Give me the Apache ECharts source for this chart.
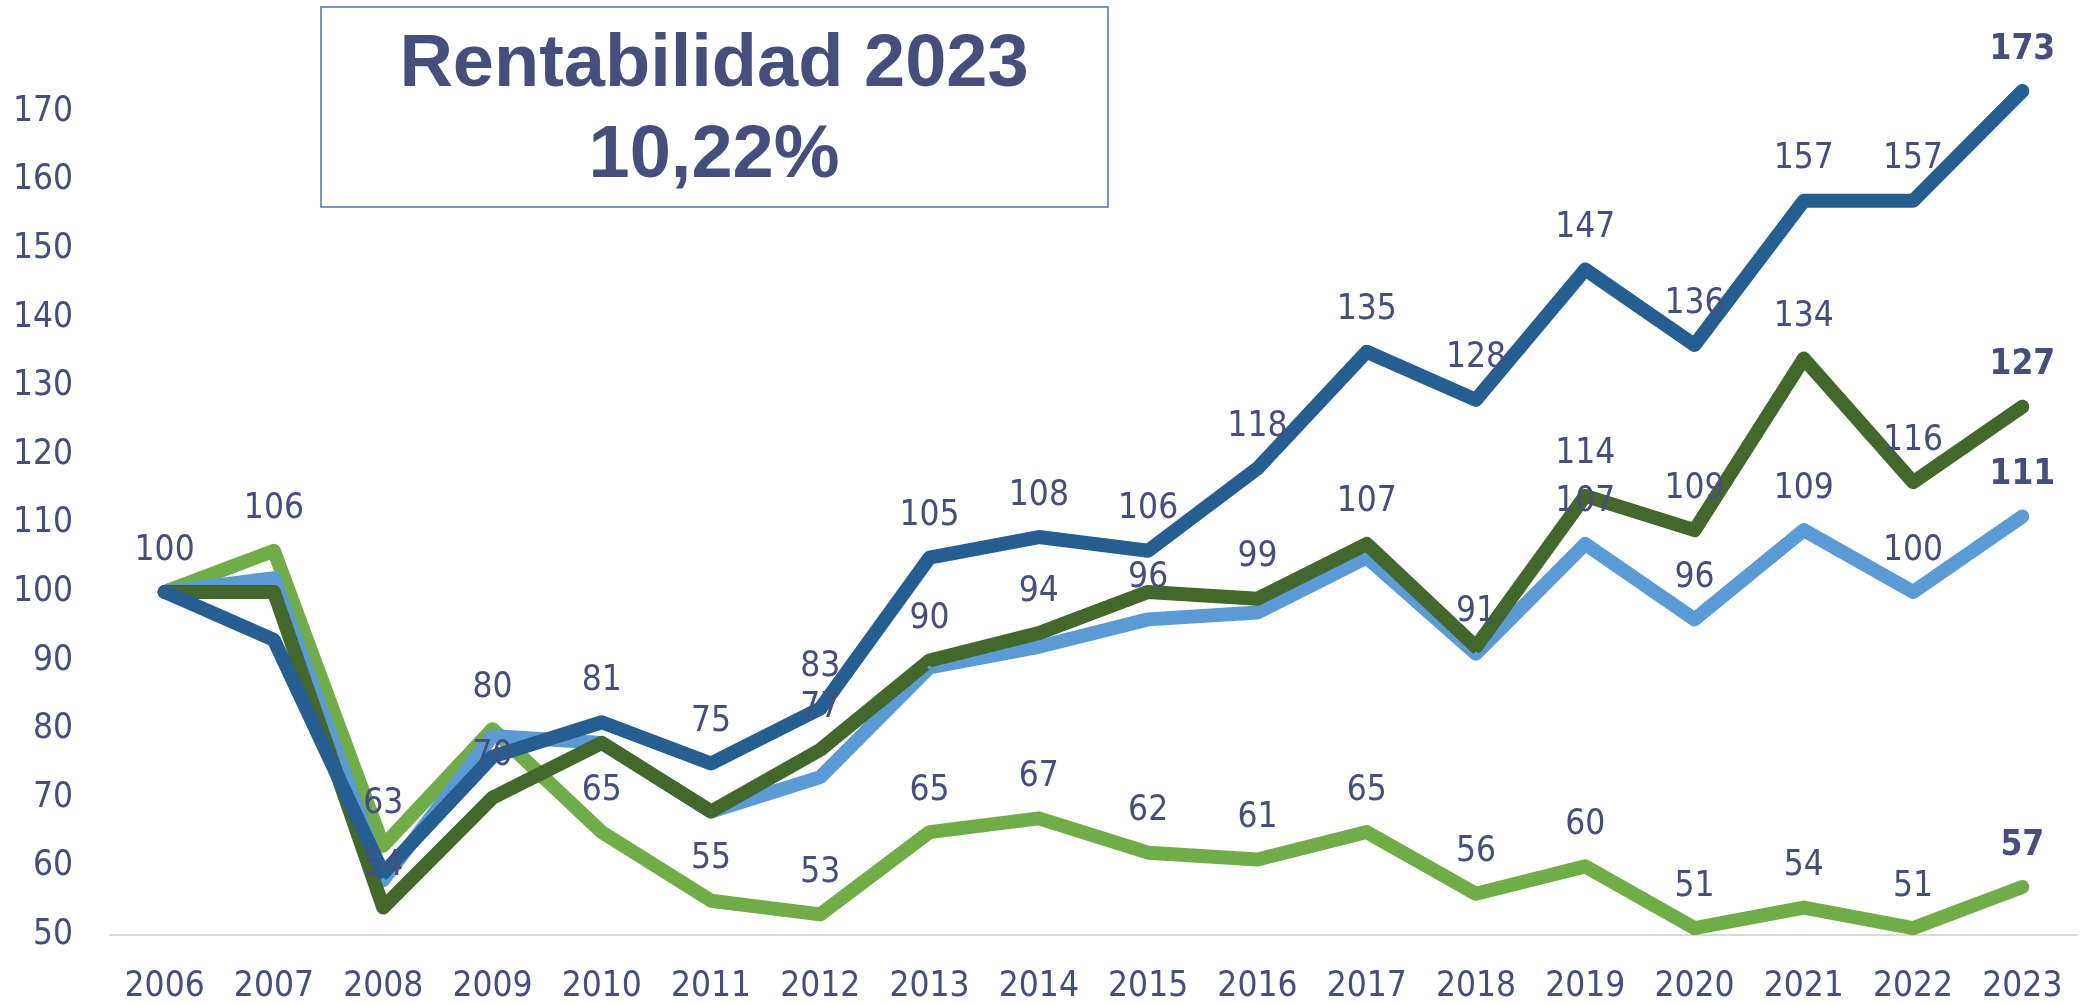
<!DOCTYPE html>
<html>
<head>
<meta charset="utf-8">
<script src="https://cdn.jsdelivr.net/npm/echarts@6/dist/echarts.min.js"></script>
<style>
  html, body { margin: 0; padding: 0; background: #fff; }
  #chart { width: 2083px; height: 1004px; }
</style>
</head>
<body>
<div id="chart"></div>
<script>
// years on the x axis
const years = ['2006', '2007', '2008', '2009', '2010', '2011', '2012', '2013', '2014',
  '2015', '2016', '2017', '2018', '2019', '2020', '2021', '2022', '2023'];

// series values (index = 100 in 2006)
const darkBlue   = [100, 93, 59, 76, 81, 75, 83, 105, 108, 106, 118, 135, 128, 147, 136, 157, 157, 173];
const lightBlue  = [100, 102, 58, 79, 78, 68, 73, 89, 92, 96, 97, 105, 91, 107, 96, 109, 100, 111];
const darkGreen  = [100, 100, 54, 70, 78, 68, 77, 90, 94, 100, 99, 107, 92, 114, 109, 134, 116, 127];
const lightGreen = [100, 106, 63, 80, 65, 55, 53, 65, 67, 62, 61, 65, 56, 60, 51, 54, 51, 57];

// which points carry a data label (1 = shown)
const darkBlueLabels   = [0, 0, 0, 0, 1, 1, 1, 1, 1, 1, 1, 1, 1, 1, 1, 1, 1, 1];
const lightBlueLabels  = [0, 0, 0, 0, 0, 0, 0, 0, 0, 1, 0, 0, 1, 1, 1, 1, 1, 1];
const darkGreenLabels  = [0, 0, 1, 1, 0, 0, 1, 1, 1, 0, 1, 1, 0, 1, 1, 1, 1, 1];
const lightGreenLabels = [1, 1, 1, 1, 1, 1, 1, 1, 1, 1, 1, 1, 1, 1, 1, 1, 1, 1];

const textColor = '#464e7e';
const narrowFont = '"DejaVu Sans Condensed", "Liberation Sans Narrow", sans-serif';

function buildData(values, flags) {
  return values.map((v, i) => ({
    value: v,
    label: {
      show: flags[i] === 1,
      fontWeight: i === values.length - 1 ? 'bold' : 'normal'
    }
  }));
}

function makeSeries(name, color, values, flags) {
  return {
    name: name,
    type: 'line',
    data: buildData(values, flags),
    symbol: 'circle',
    symbolSize: 4,
    showSymbol: true,
    showAllSymbol: true,
    lineStyle: { color: color, width: 14, cap: 'round', join: 'round' },
    itemStyle: { color: color },
    label: {
      show: false,
      position: 'top',
      distance: 22,
      color: textColor,
      fontSize: 35,
      fontFamily: narrowFont
    },
    labelLayout: { hideOverlap: false },
    emphasis: { disabled: true },
    animation: false
  };
}

const chart = echarts.init(document.getElementById('chart'));

chart.setOption({
  backgroundColor: '#ffffff',
  grid: { left: 110, right: 6, top: 43, bottom: 66 },
  xAxis: {
    type: 'category',
    data: years,
    axisLine: { lineStyle: { color: '#d9d9d9', width: 2 } },
    axisTick: { show: false },
    axisLabel: { color: textColor, fontSize: 35, fontFamily: narrowFont, margin: 34, interval: 0 }
  },
  yAxis: {
    type: 'value',
    min: 50,
    max: 180,
    interval: 10,
    splitLine: { show: false },
    axisLine: { show: false },
    axisTick: { show: false },
    axisLabel: {
      color: textColor, fontSize: 35, fontFamily: narrowFont, margin: 37,
      showMaxLabel: false
    }
  },
  graphic: [
    {
      type: 'rect',
      shape: { x: 321, y: 7, width: 787, height: 200 },
      style: { fill: '#ffffff', stroke: '#4472c4', lineWidth: 1.5 },
      z: 10
    },
    {
      type: 'text',
      x: 714, y: 66,
      style: {
        text: 'Rentabilidad 2023', fill: textColor, fontSize: 74, fontWeight: 'bold',
        fontFamily: '"Liberation Sans", Arial, sans-serif', align: 'center', verticalAlign: 'middle'
      },
      z: 11
    },
    {
      type: 'text',
      x: 714, y: 157,
      style: {
        text: '10,22%', fill: textColor, fontSize: 74, fontWeight: 'bold',
        fontFamily: '"Liberation Sans", Arial, sans-serif', align: 'center', verticalAlign: 'middle'
      },
      z: 11
    }
  ],
  series: [
    makeSeries('Light green', '#70ad47', lightGreen, lightGreenLabels),
    makeSeries('Light blue', '#5b9bd5', lightBlue, lightBlueLabels),
    makeSeries('Dark green', '#43682b', darkGreen, darkGreenLabels),
    makeSeries('Dark blue', '#255e91', darkBlue, darkBlueLabels)
  ]
});
</script>
</body>
</html>
